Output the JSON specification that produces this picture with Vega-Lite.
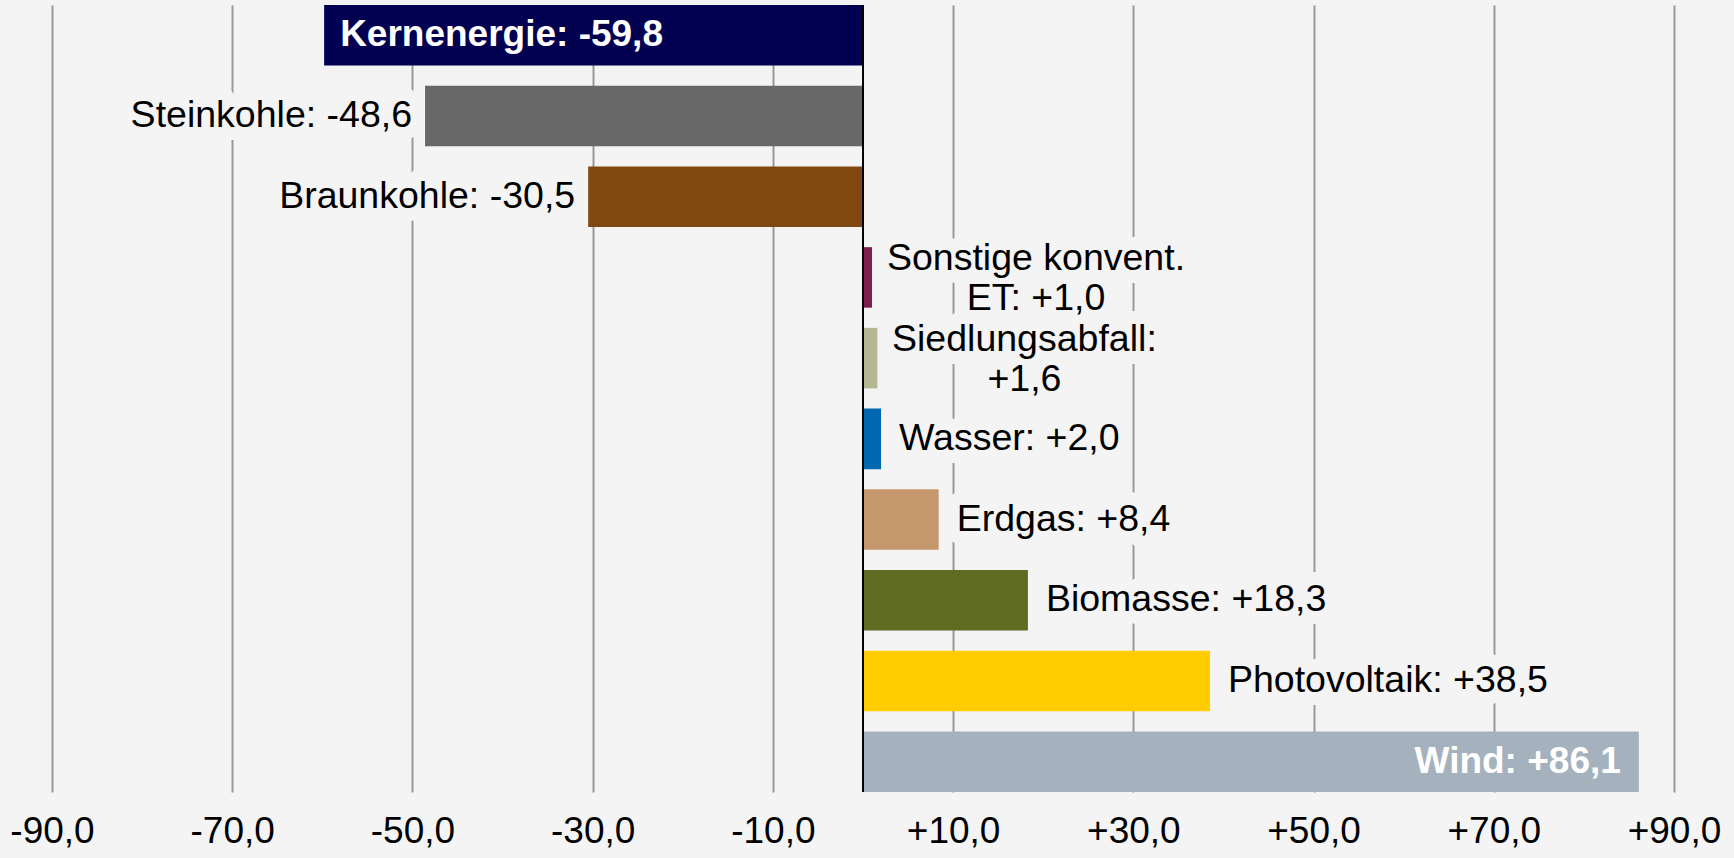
{
  "$schema": "https://vega.github.io/schema/vega-lite/v6.json",
  "width": 1622,
  "height": 787,
  "padding": {"left": 52, "top": 5, "right": 60, "bottom": 66},
  "autosize": {"type": "none"},
  "background": "#f4f4f4",
  "config": {"view": {"stroke": null, "fill": "#f4f4f4"}, "font": "Liberation Sans"},
  "data": {"values": [
    {"cat": "Kernenergie", "value": -59.8, "label": "Kernenergie: -59,8"},
    {"cat": "Steinkohle", "value": -48.6, "label": "Steinkohle: -48,6"},
    {"cat": "Braunkohle", "value": -30.5, "label": "Braunkohle: -30,5"},
    {"cat": "Sonstige konvent. ET", "value": 1.0, "label": "Sonstige konvent.\nET: +1,0"},
    {"cat": "Siedlungsabfall", "value": 1.6, "label": "Siedlungsabfall:\n+1,6"},
    {"cat": "Wasser", "value": 2.0, "label": "Wasser: +2,0"},
    {"cat": "Erdgas", "value": 8.4, "label": "Erdgas: +8,4"},
    {"cat": "Biomasse", "value": 18.3, "label": "Biomasse: +18,3"},
    {"cat": "Photovoltaik", "value": 38.5, "label": "Photovoltaik: +38,5"},
    {"cat": "Wind", "value": 86.1, "label": "Wind: +86,1"}
  ]},
  "layer": [
    {
      "encoding": {
        "y": {"field": "cat", "type": "nominal", "sort": null,
          "scale": {"domain": ["Kernenergie", "Steinkohle", "Braunkohle", "Sonstige konvent. ET", "Siedlungsabfall", "Wasser", "Erdgas", "Biomasse", "Photovoltaik", "Wind"], "paddingInner": 0.25, "paddingOuter": 0}, "axis": null},
        "x": {"field": "value", "type": "quantitative",
          "scale": {"domain": [-90, 90], "nice": false},
          "axis": {"values": [-90, -70, -50, -30, -10, 10, 30, 50, 70, 90],
            "labelExpr": "(datum.value > 0 ? '+' : '-') + replace(format(abs(datum.value), '.1f'), '.', ',')",
            "grid": true, "gridColor": "#999999", "gridWidth": 2,
            "domain": false, "ticks": false, "tickSize": 0,
            "labelFontSize": 37, "labelColor": "#000000", "labelPadding": 21,
            "labelFont": "Liberation Sans", "labelFlush": false, "labelOverlap": false, "title": null}}
      },
      "layer": [
        {"transform": [{"filter": {"field": "cat", "oneOf": ["Steinkohle", "Braunkohle"]}}],
          "mark": {"type": "text", "align": "right", "baseline": "middle", "dx": -13, "fontSize": 37.5, "fill": "#f4f4f4", "stroke": "#f4f4f4", "strokeWidth": 26, "strokeJoin": "round"},
          "encoding": {"text": {"field": "label"}}},
        {"transform": [{"filter": {"field": "cat", "oneOf": ["Wasser", "Erdgas", "Biomasse", "Photovoltaik"]}}],
          "mark": {"type": "text", "align": "left", "baseline": "middle", "dx": 18, "fontSize": 37.5, "fill": "#f4f4f4", "stroke": "#f4f4f4", "strokeWidth": 26, "strokeJoin": "round"},
          "encoding": {"text": {"field": "label"}}},
        {"transform": [{"filter": {"field": "cat", "equal": "Sonstige konvent. ET"}}],
          "mark": {"type": "text", "align": "center", "baseline": "middle", "dx": 164, "dy": -18, "fontSize": 37.5, "lineHeight": 40, "lineBreak": "\n", "fill": "#f4f4f4", "stroke": "#f4f4f4", "strokeWidth": 26, "strokeJoin": "round"},
          "encoding": {"text": {"field": "label"}}},
        {"transform": [{"filter": {"field": "cat", "equal": "Siedlungsabfall"}}],
          "mark": {"type": "text", "align": "center", "baseline": "middle", "dx": 147, "dy": -18, "fontSize": 37.5, "lineHeight": 40, "lineBreak": "\n", "fill": "#f4f4f4", "stroke": "#f4f4f4", "strokeWidth": 26, "strokeJoin": "round"},
          "encoding": {"text": {"field": "label"}}},
        {"mark": {"type": "bar"},
          "encoding": {"color": {"field": "cat", "type": "nominal", "legend": null,
            "scale": {"domain": ["Kernenergie", "Steinkohle", "Braunkohle", "Sonstige konvent. ET", "Siedlungsabfall", "Wasser", "Erdgas", "Biomasse", "Photovoltaik", "Wind"],
              "range": ["#020050", "#686868", "#80470f", "#7e1e4e", "#b4b994", "#0068b0", "#c4986c", "#606b22", "#ffcc00", "#a6b1be"]}}}},
        {"transform": [{"filter": {"field": "cat", "oneOf": ["Steinkohle", "Braunkohle"]}}],
          "mark": {"type": "text", "align": "right", "baseline": "middle", "dx": -13, "fontSize": 37.5, "color": "#000000"},
          "encoding": {"text": {"field": "label"}}},
        {"transform": [{"filter": {"field": "cat", "oneOf": ["Wasser", "Erdgas", "Biomasse", "Photovoltaik"]}}],
          "mark": {"type": "text", "align": "left", "baseline": "middle", "dx": 18, "fontSize": 37.5, "color": "#000000"},
          "encoding": {"text": {"field": "label"}}},
        {"transform": [{"filter": {"field": "cat", "equal": "Sonstige konvent. ET"}}],
          "mark": {"type": "text", "align": "center", "baseline": "middle", "dx": 164, "dy": -18, "fontSize": 37.5, "lineHeight": 40, "lineBreak": "\n", "color": "#000000"},
          "encoding": {"text": {"field": "label"}}},
        {"transform": [{"filter": {"field": "cat", "equal": "Siedlungsabfall"}}],
          "mark": {"type": "text", "align": "center", "baseline": "middle", "dx": 147, "dy": -18, "fontSize": 37.5, "lineHeight": 40, "lineBreak": "\n", "color": "#000000"},
          "encoding": {"text": {"field": "label"}}},
        {"transform": [{"filter": {"field": "cat", "equal": "Kernenergie"}}],
          "mark": {"type": "text", "align": "left", "baseline": "middle", "dx": 16, "fontSize": 37, "fontWeight": "bold", "color": "#ffffff"},
          "encoding": {"text": {"field": "label"}}},
        {"transform": [{"filter": {"field": "cat", "equal": "Wind"}}],
          "mark": {"type": "text", "align": "right", "baseline": "middle", "dx": -18, "fontSize": 37, "fontWeight": "bold", "color": "#ffffff"},
          "encoding": {"text": {"field": "label"}}}
      ]
    },
    {"mark": {"type": "rule", "color": "#000000", "strokeWidth": 2},
      "encoding": {"x": {"datum": 0, "type": "quantitative"}}}
  ]
}
